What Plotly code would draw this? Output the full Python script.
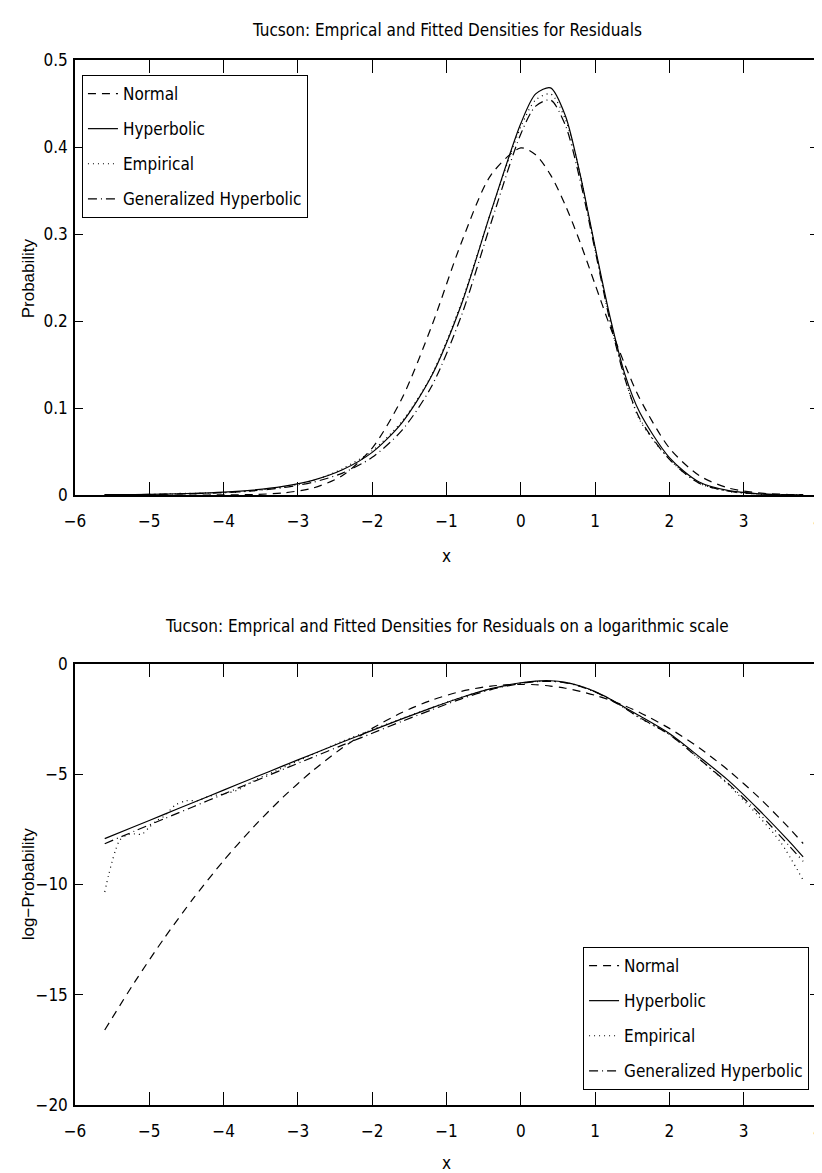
import plotly.graph_objects as go

# ---------------- data ----------------
x_grid = [-5.6, -5.2, -4.8, -4.4, -4.0, -3.6, -3.2, -2.8, -2.4, -2.0, -1.6, -1.2, -0.8, -0.4,
          0.0, 0.2, 0.4, 0.6, 0.8, 1.0, 1.2, 1.4, 1.6, 2.0, 2.4, 2.8, 3.2, 3.6, 3.8]

normal_den = [0.0, 0.0, 0.0, 0.0, 0.0001, 0.0006, 0.0024, 0.0079, 0.0224, 0.054, 0.111, 0.194, 0.290, 0.368,
              0.399, 0.391, 0.368, 0.333, 0.290, 0.242, 0.194, 0.150, 0.111, 0.054, 0.0224, 0.0079, 0.0024, 0.0006, 0.0003]
normal_log = [-16.6, -14.44, -12.44, -10.6, -8.92, -7.40, -6.04, -4.84, -3.80, -2.92, -2.20, -1.64, -1.24, -1.0,
              -0.92, -0.94, -1.0, -1.10, -1.24, -1.42, -1.64, -1.90, -2.20, -2.92, -3.80, -4.84, -6.04, -7.40, -8.14]

hyp_den = [0.0004, 0.0006, 0.0011, 0.0019, 0.0033, 0.0057, 0.0099, 0.0169, 0.029, 0.049, 0.083, 0.137, 0.219, 0.326,
           0.427, 0.461, 0.468, 0.436, 0.368, 0.285, 0.205, 0.139, 0.095, 0.043, 0.015, 0.005, 0.0014, 0.0003, 0.0002]
hyp_log = [-7.92, -7.37, -6.82, -6.27, -5.72, -5.17, -4.62, -4.08, -3.54, -3.01, -2.49, -1.99, -1.52, -1.12,
           -0.85, -0.775, -0.76, -0.83, -1.0, -1.255, -1.585, -1.97, -2.35, -3.15, -4.20, -5.30, -6.60, -8.00, -8.75]

gh_den = [0.0003, 0.0005, 0.0009, 0.0016, 0.0027, 0.0048, 0.0084, 0.0146, 0.0252, 0.0433, 0.0743, 0.125, 0.206, 0.313,
          0.415, 0.447, 0.454, 0.425, 0.361, 0.281, 0.200, 0.134, 0.088, 0.041, 0.0136, 0.0043, 0.0012, 0.0003, 0.0001]
gh_log = [-8.15, -7.58, -7.02, -6.46, -5.90, -5.34, -4.78, -4.23, -3.68, -3.14, -2.60, -2.08, -1.58, -1.16,
          -0.88, -0.805, -0.79, -0.855, -1.02, -1.27, -1.61, -2.01, -2.43, -3.20, -4.30, -5.45, -6.75, -8.20, -8.95]

emp_x = [-5.6, -5.55, -5.5, -5.45, -5.4, -5.3, -5.2, -5.1, -5.0, -4.9, -4.8, -4.65, -4.5, -4.35, -4.2, -4.0,
         -3.8, -3.6, -3.3, -3.0, -2.7, -2.4, -2.0, -1.6, -1.2, -0.8, -0.4, 0.0, 0.2, 0.4, 0.6, 0.8, 1.0, 1.2,
         1.4, 1.6, 2.0, 2.4, 2.8, 3.2, 3.5, 3.8]
emp_den = [0.00003, 0.00007, 0.00013, 0.00022, 0.00034, 0.00043, 0.00045, 0.00044, 0.00061, 0.00083, 0.001,
           0.0017, 0.002, 0.002, 0.0025, 0.0027, 0.0033, 0.005, 0.0078, 0.0123, 0.0193, 0.0302, 0.0508, 0.0846,
           0.138, 0.221, 0.326, 0.423, 0.454, 0.461, 0.432, 0.368, 0.284, 0.202, 0.135, 0.0863, 0.041, 0.0136,
           0.0041, 0.001, 0.0003, 0.00006]
emp_log = [-10.34, -9.6, -8.95, -8.4, -8.0, -7.75, -7.7, -7.72, -7.4, -7.1, -6.9, -6.4, -6.2, -6.2, -6.0, -5.9,
           -5.7, -5.3, -4.85, -4.4, -3.95, -3.5, -2.98, -2.47, -1.98, -1.51, -1.12, -0.86, -0.79, -0.775, -0.84,
           -1.0, -1.26, -1.6, -2.0, -2.45, -3.20, -4.30, -5.50, -6.90, -8.10, -9.8]

names = ["Normal", "Hyperbolic", "Empirical", "Generalized Hyperbolic"]
x_ticks = [-6, -5, -4, -3, -2, -1, 0, 1, 2, 3, 4]
top_yticks = [0, 0.1, 0.2, 0.3, 0.4, 0.5]
bot_yticks = [0, -5, -10, -15, -20]

title_top = "Tucson: Emprical and Fitted Densities for Residuals"
title_bot = "Tucson: Emprical and Fitted Densities for Residuals on a logarithmic scale"

# ---------------- styling ----------------
NARROW = "DejaVu Sans Condensed, Liberation Sans Narrow, Arial Narrow, sans-serif"
REG = "Liberation Sans, Arial, sans-serif"
FS = 17
dashes = ["8px,6px", "solid", "1px,4px", "9px,4px,1px,4px"]

fig = go.Figure()

top_sets = [(x_grid, normal_den), (x_grid, hyp_den), (emp_x, emp_den), (x_grid, gh_den)]
bot_sets = [(x_grid, normal_log), (x_grid, hyp_log), (emp_x, emp_log), (x_grid, gh_log)]

for i, (xs, ys) in enumerate(top_sets):
    fig.add_trace(go.Scatter(x=xs, y=ys, mode="lines", name=names[i], xaxis="x", yaxis="y",
                             legend="legend", legendgroup="t%d" % i,
                             line=dict(color="black", width=1.2, dash=dashes[i], shape="spline", smoothing=0.8)))
for i, (xs, ys) in enumerate(bot_sets):
    fig.add_trace(go.Scatter(x=xs, y=ys, mode="lines", name=names[i], xaxis="x2", yaxis="y2",
                             legend="legend2", legendgroup="b%d" % i,
                             line=dict(color="black", width=1.2, dash=dashes[i], shape="spline", smoothing=0.8)))

W, H = 822, 1173
L, R, T, B = 67, 7, 52, 76
PH = H - T - B


def py(pix):
    return (H - B - pix) / PH


def px(pix):
    return (pix - L) / (W - L - R)


axis_common = dict(showline=True, linecolor="black", linewidth=1.5, mirror="ticks", ticks="inside",
                   tickcolor="black", tickwidth=1, showgrid=False, zeroline=False,
                   tickfont=dict(family=NARROW, size=FS, color="black"))

fig.update_layout(
    width=W, height=H,
    margin=dict(l=L, r=R, t=T, b=B),
    paper_bgcolor="white", plot_bgcolor="white",
    showlegend=True,
    xaxis=dict(domain=[0, 1], anchor="y", range=[-6, 4], tickvals=x_ticks, ticklen=13,
               ticklabelstandoff=10, **axis_common),
    yaxis=dict(domain=[py(487), 1], anchor="x", range=[0, 0.5], tickvals=top_yticks, ticklen=8,
               ticklabelstandoff=2, **axis_common),
    xaxis2=dict(domain=[0, 1], anchor="y2", range=[-6, 4], tickvals=x_ticks, ticklen=13,
                ticklabelstandoff=10, **axis_common),
    yaxis2=dict(domain=[0, py(656)], anchor="x2", range=[-20, 0], tickvals=bot_yticks, ticklen=8,
                ticklabelstandoff=2, **axis_common),
    legend=dict(x=px(74), y=py(67), xanchor="left", yanchor="top", bgcolor="white",
                bordercolor="black", borderwidth=1, tracegroupgap=10,
                font=dict(family=NARROW, size=FS, color="black")),
    legend2=dict(x=px(806), y=py(1082), xanchor="right", yanchor="bottom", bgcolor="white",
                 bordercolor="black", borderwidth=1, tracegroupgap=10,
                 font=dict(family=NARROW, size=FS, color="black")),
    annotations=[
        dict(text=title_top, x=0.5, y=py(22), xref="paper", yref="paper", showarrow=False,
             xanchor="center", yanchor="middle", font=dict(family=NARROW, size=FS, color="black")),
        dict(text=title_bot, x=0.5, y=py(618), xref="paper", yref="paper", showarrow=False,
             xanchor="center", yanchor="middle", font=dict(family=NARROW, size=FS, color="black")),
        dict(text="x", x=0.5, y=py(548), xref="paper", yref="paper", showarrow=False,
             xanchor="center", yanchor="middle", font=dict(family=NARROW, size=FS, color="black")),
        dict(text="x", x=0.5, y=py(1155), xref="paper", yref="paper", showarrow=False,
             xanchor="center", yanchor="middle", font=dict(family=NARROW, size=FS, color="black")),
        dict(text="Probability", x=px(20), y=py(270), xref="paper", yref="paper", showarrow=False,
             textangle=-90, xanchor="center", yanchor="middle", font=dict(family=REG, size=17, color="black")),
        dict(text="log\u2212Probability", x=px(20), y=py(876), xref="paper", yref="paper", showarrow=False,
             textangle=-90, xanchor="center", yanchor="middle", font=dict(family=REG, size=17, color="black")),
    ],
)

fig.write_html("out.html")
